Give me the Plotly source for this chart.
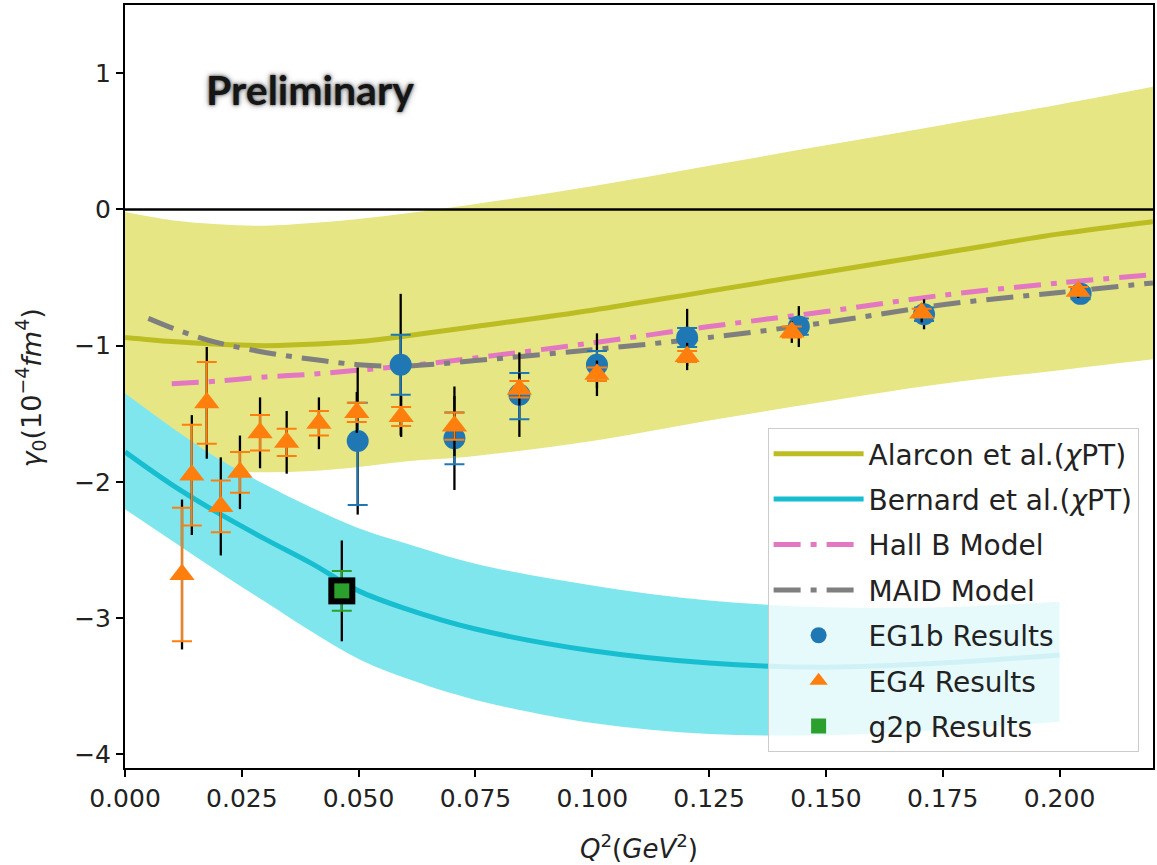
import plotly.graph_objects as go

# ---------------- data ----------------
# Alarcon et al. (chiPT) central curve and band
alarcon_x = [0.0, 0.01, 0.02, 0.03, 0.04, 0.05, 0.06, 0.075, 0.1, 0.125, 0.15, 0.175, 0.2, 0.22]
alarcon_y = [-0.94, -0.97, -0.99, -1.0, -0.99, -0.97, -0.93, -0.86, -0.74, -0.6, -0.46, -0.32, -0.18, -0.09]
alarcon_hi = [-0.02, -0.08, -0.11, -0.12, -0.1, -0.07, -0.03, 0.04, 0.17, 0.32, 0.47, 0.62, 0.77, 0.9]
alarcon_lo = [-1.85, -1.89, -1.92, -1.93, -1.92, -1.89, -1.85, -1.81, -1.7, -1.55, -1.41, -1.28, -1.18, -1.1]

# Bernard et al. (chiPT) central curve and band
bernard_x = [0.0, 0.01, 0.02, 0.03, 0.04, 0.05, 0.06, 0.075, 0.1, 0.125, 0.15, 0.175, 0.2]
bernard_y = [-1.78, -2.02, -2.23, -2.42, -2.6, -2.8, -2.93, -3.08, -3.24, -3.33, -3.36, -3.33, -3.27]
bernard_hi = [-1.35, -1.6, -1.83, -2.02, -2.19, -2.34, -2.45, -2.6, -2.76, -2.87, -2.92, -2.92, -2.88]
bernard_lo = [-2.2, -2.43, -2.66, -2.88, -3.1, -3.3, -3.44, -3.6, -3.77, -3.85, -3.86, -3.82, -3.76]

# Hall B model
hallb_x = [0.01, 0.02, 0.03, 0.04, 0.05, 0.06, 0.075, 0.1, 0.125, 0.15, 0.175, 0.2, 0.22]
hallb_y = [-1.28, -1.26, -1.23, -1.21, -1.18, -1.15, -1.09, -0.98, -0.86, -0.75, -0.63, -0.54, -0.48]

# MAID model
maid_x = [0.005, 0.01, 0.015, 0.02, 0.03, 0.04, 0.05, 0.06, 0.075, 0.1, 0.125, 0.15, 0.175, 0.2, 0.22]
maid_y = [-0.8, -0.87, -0.93, -0.98, -1.05, -1.1, -1.14, -1.15, -1.11, -1.03, -0.94, -0.83, -0.7, -0.61, -0.54]

# EG1b results
eg1b_x = [0.0498, 0.059, 0.0705, 0.0844, 0.101, 0.1203, 0.1442, 0.171, 0.2045]
eg1b_y = [-1.70, -1.14, -1.68, -1.36, -1.14, -0.94, -0.86, -0.77, -0.62]
eg1b_stat_plus = [0.28, 0.22, 0.19, 0.16, 0.10, 0.07, 0.06, 0.05, 0.04]
eg1b_stat_minus = [0.47, 0.22, 0.19, 0.18, 0.10, 0.07, 0.06, 0.05, 0.04]
eg1b_sys = [0.54, 0.52, 0.38, 0.31, 0.23, 0.21, 0.15, 0.11, 0.06]

# EG4 results
eg4_x = [0.0122, 0.0143, 0.0175, 0.0205, 0.0246, 0.0289, 0.0346, 0.0415, 0.0496,
         0.0591, 0.0705, 0.0844, 0.101, 0.1203, 0.1427, 0.1705, 0.204]
eg4_y = [-2.68, -1.95, -1.42, -2.18, -1.93, -1.64, -1.71, -1.57, -1.49,
         -1.52, -1.59, -1.32, -1.21, -1.08, -0.90, -0.76, -0.60]
eg4_stat = [0.49, 0.37, 0.30, 0.19, 0.15, 0.13, 0.10, 0.09, 0.07,
            0.07, 0.10, 0.06, 0.05, 0.04, 0.04, 0.03, 0.03]
eg4_sys = [0.55, 0.44, 0.41, 0.36, 0.27, 0.26, 0.23, 0.19, 0.15,
           0.15, 0.22, 0.12, 0.10, 0.10, 0.08, 0.07, 0.05]

# g2p result
g2p_x = [0.0464]
g2p_y = [-2.80]
g2p_stat = [0.145]
g2p_sys = [0.37]

x_ticks = [0.0, 0.025, 0.05, 0.075, 0.1, 0.125, 0.15, 0.175, 0.2]
y_ticks = [-4, -3, -2, -1, 0, 1]

# ---------------- figure ----------------
FONT = "DejaVu Sans"
fig = go.Figure()

# Alarcon band
fig.add_trace(go.Scatter(x=alarcon_x, y=alarcon_lo, mode="lines", line=dict(width=0, shape="spline"),
                         showlegend=False, hoverinfo="skip"))
fig.add_trace(go.Scatter(x=alarcon_x, y=alarcon_hi, mode="lines", line=dict(width=0, shape="spline"),
                         fill="tonexty", fillcolor="rgb(230,230,133)", showlegend=False, hoverinfo="skip"))
# Bernard band
fig.add_trace(go.Scatter(x=bernard_x, y=bernard_lo, mode="lines", line=dict(width=0, shape="spline"),
                         showlegend=False, hoverinfo="skip"))
fig.add_trace(go.Scatter(x=bernard_x, y=bernard_hi, mode="lines", line=dict(width=0, shape="spline"),
                         fill="tonexty", fillcolor="rgb(128,230,238)", showlegend=False, hoverinfo="skip"))

# zero line
fig.add_trace(go.Scatter(x=[0.0, 0.22], y=[0, 0], mode="lines", line=dict(color="black", width=2.5),
                         showlegend=False, hoverinfo="skip"))

# model curves
fig.add_trace(go.Scatter(x=alarcon_x, y=alarcon_y, mode="lines", name="Alarcon et al.(<i>χ</i>PT)",
                         legendgroup="a", line=dict(color="#bcbd22", width=5, shape="spline")))
fig.add_trace(go.Scatter(x=bernard_x, y=bernard_y, mode="lines", name="Bernard et al.(<i>χ</i>PT)",
                         legendgroup="b", line=dict(color="#17becf", width=5, shape="spline")))
fig.add_trace(go.Scatter(x=hallb_x, y=hallb_y, mode="lines", name="Hall B Model",
                         legendgroup="c", line=dict(color="#e377c2", width=5, shape="spline",
                                                    dash="27px,10px,6px,10px")))
fig.add_trace(go.Scatter(x=maid_x, y=maid_y, mode="lines", name="MAID Model",
                         legendgroup="d", line=dict(color="#7f7f7f", width=5, shape="spline",
                                                    dash="27px,10px,6px,10px")))

def sys_trace(x, y, err):
    return go.Scatter(x=x, y=y, mode="markers", marker=dict(size=1, color="rgba(0,0,0,0)"),
                      error_y=dict(type="data", array=err, visible=True, color="black",
                                   thickness=2.3, width=0),
                      showlegend=False, hoverinfo="skip")

# EG1b
fig.add_trace(sys_trace(eg1b_x, eg1b_y, eg1b_sys))
fig.add_trace(go.Scatter(x=eg1b_x, y=eg1b_y, mode="markers", name="EG1b Results", legendgroup="e",
                         marker=dict(symbol="circle", size=22, color="#1f77b4"),
                         error_y=dict(type="data", array=eg1b_stat_plus, arrayminus=eg1b_stat_minus,
                                      visible=True, color="#1f77b4", thickness=2, width=10)))
# EG4
fig.add_trace(sys_trace(eg4_x, eg4_y, eg4_sys))
fig.add_trace(go.Scatter(x=eg4_x, y=eg4_y, mode="markers", name="EG4 Results", legendgroup="f",
                         marker=dict(symbol="triangle-up", size=22, color="#ff7f0e"),
                         error_y=dict(type="data", array=eg4_stat, visible=True, color="#ff7f0e",
                                      thickness=2, width=10)))
# g2p
fig.add_trace(sys_trace(g2p_x, g2p_y, g2p_sys))
fig.add_trace(go.Scatter(x=g2p_x, y=g2p_y, mode="markers", showlegend=False, hoverinfo="skip",
                         marker=dict(symbol="square", size=27, color="black"),
                         error_y=dict(type="data", array=g2p_stat, visible=True, color="#2ca02c",
                                      thickness=2, width=10)))
fig.add_trace(go.Scatter(x=g2p_x, y=g2p_y, mode="markers", name="g2p Results", legendgroup="g",
                         marker=dict(symbol="square", size=15, color="#2ca02c")))

fig.add_annotation(x=0.0395, y=0.88, xref="x", yref="y", text="<b>Preliminary</b>", showarrow=False,
                   xanchor="center", yanchor="middle",
                   font=dict(family="Lato", size=41, color="#151515",
                             shadow="0px 0px 3px #505050, 0px 0px 6px #8a8a8a"))

# y-axis title placed as a rotated annotation to match the reference position
fig.add_annotation(x=-0.092, y=0.498, xref="paper", yref="paper", showarrow=False,
                   text="<i>γ</i><sub>0</sub>(10<sup>−4</sup><i>fm</i><sup>4</sup>)",
                   textangle=-90, xanchor="center", yanchor="middle",
                   font=dict(family=FONT, size=27, color="#222"))

axis_common = dict(showline=True, linecolor="black", linewidth=2, mirror=True, ticks="outside",
                   ticklen=7, tickwidth=1.5, tickcolor="black", showgrid=False, zeroline=False,
                   tickfont=dict(family=FONT, size=25, color="#222"))

fig.update_layout(
    width=1157, height=865,
    margin=dict(l=125, r=2, t=5, b=97),
    plot_bgcolor="white", paper_bgcolor="white",
    font=dict(family=FONT, color="#222"),
    xaxis=dict(range=[0, 0.22], tickvals=x_ticks, tickformat=".3f",
               title=dict(text="<i>Q</i><sup>2</sup>(<i>GeV</i><sup>2</sup>)",
                          font=dict(family=FONT, size=26), standoff=28),
               **axis_common),
    yaxis=dict(range=[-4.1, 1.5], tickvals=y_ticks, **axis_common),
    legend=dict(x=0.986, y=0.021, xanchor="right", yanchor="bottom",
                bgcolor="rgba(255,255,255,0.8)", bordercolor="#cccccc", borderwidth=1,
                font=dict(family=FONT, size=28, color="#222"),
                traceorder="grouped", tracegroupgap=6, itemwidth=90),
)

fig.write_html("out.html")
